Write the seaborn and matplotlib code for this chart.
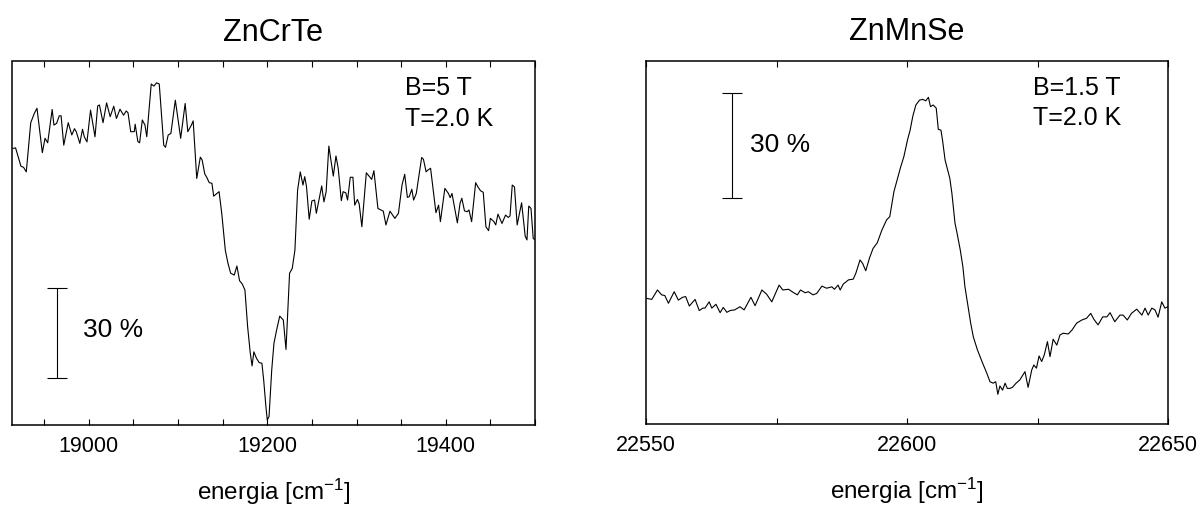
import numpy as np
import pandas as pd
import matplotlib
matplotlib.use("Agg")
import matplotlib.pyplot as plt
from matplotlib import font_manager
from matplotlib.ticker import MultipleLocator
import seaborn as sns

# ---------------- data ----------------
crte_energy = [18915, 18918, 18924, 18927, 18930, 18935, 18939, 18942, 18948, 18951,
               18954, 18959, 18961, 18964, 18967, 18969, 18972, 18977, 18981, 18984,
               18986, 18990, 18993, 18995, 18998, 19002, 19007, 19010, 19012, 19016,
               19020, 19024, 19028, 19031, 19035, 19039, 19042, 19044, 19047, 19051,
               19052, 19055, 19057, 19060, 19063, 19065, 19070, 19073, 19076, 19079,
               19084, 19086, 19089, 19092, 19097, 19103, 19108, 19111, 19115, 19117,
               19121, 19125, 19127, 19130, 19132, 19135, 19138, 19140, 19146, 19149,
               19153, 19156, 19159, 19163, 19166, 19169, 19172, 19175, 19178, 19181,
               19183, 19185, 19188, 19191, 19194, 19196, 19198.5, 19200, 19202, 19205,
               19207.5, 19210.5, 19214, 19218, 19221, 19225, 19228, 19231, 19234, 19237,
               19240, 19242, 19244, 19247, 19250, 19253, 19255, 19261, 19263.5, 19266,
               19269, 19274, 19277, 19279.5, 19283, 19285, 19288, 19290, 19293, 19296,
               19298, 19301, 19303, 19306, 19311, 19317, 19319.5, 19324, 19330, 19333,
               19337.5, 19343, 19347, 19351, 19354, 19357, 19359, 19362, 19364, 19367,
               19373, 19375, 19378, 19380, 19383, 19389, 19392, 19394, 19399, 19403,
               19405, 19407, 19413, 19416, 19418, 19421, 19424, 19426, 19429, 19433.5,
               19436, 19439, 19442, 19445, 19448, 19450, 19454, 19456, 19458.5, 19463,
               19467, 19470, 19472, 19474.5, 19477, 19480, 19485, 19489, 19491, 19493,
               19495.5, 19498, 19500]
crte_signal = [92.2, 92.4, 86.3, 85.9, 84.4, 100.8, 103.9, 105.6, 90.8, 95.6,
               94.1, 105.2, 100.0, 100.6, 103.1, 103.1, 93.3, 100.8, 96.7, 98.8,
               97.8, 93.9, 98.6, 96.1, 94.4, 105.0, 96.1, 106.4, 106.7, 100.8,
               107.4, 102.8, 106.3, 102.2, 105.3, 103.3, 104.7, 104.1, 97.8, 97.8,
               100.3, 94.5, 94.1, 101.7, 100.0, 96.1, 113.7, 113.0, 114.1, 113.7,
               93.3, 92.6, 96.7, 97.2, 108.3, 95.6, 107.2, 97.8, 100.0, 101.4,
               82.2, 89.3, 88.4, 83.7, 82.7, 80.8, 80.6, 76.3, 77.8, 70.6,
               58.3, 53.9, 50.6, 50.0, 53.0, 48.1, 47.0, 45.0, 32.8, 23.9,
               19.7, 24.4, 22.2, 20.8, 20.6, 15.0, 6.1, 1.7, 2.8, 18.3,
               27.2, 31.7, 36.3, 35.0, 25.2, 50.6, 52.2, 58.3, 78.3, 84.4,
               80.0, 82.8, 79.4, 68.6, 74.7, 75.0, 70.6, 79.7, 74.4, 77.8,
               93.0, 83.0, 89.7, 85.6, 74.8, 77.8, 77.4, 75.0, 82.6, 82.6,
               73.3, 75.2, 73.7, 66.1, 84.1, 81.9, 84.8, 72.2, 71.3, 66.7,
               71.3, 68.9, 70.6, 80.0, 83.6, 75.9, 76.1, 78.6, 75.0, 77.2,
               89.2, 88.6, 84.4, 85.0, 85.6, 70.8, 73.3, 67.8, 78.9, 77.2,
               75.8, 77.2, 67.4, 73.9, 75.6, 71.4, 71.1, 71.7, 67.8, 80.8,
               79.4, 78.1, 77.6, 66.1, 64.8, 68.9, 67.8, 66.7, 70.3, 67.2,
               70.0, 69.2, 69.7, 80.0, 79.4, 66.7, 74.1, 63.0, 61.7, 73.0,
               72.2, 62.2, 61.7]

mnse_energy = [22550.1, 22551.1, 22552.2, 22553.0, 22553.6, 22554.3, 22555.4, 22556.2, 22557.0, 22557.6,
               22558.3, 22559.4, 22560.2, 22560.9, 22561.3, 22562.1, 22562.6, 22563.4, 22564.2, 22564.8,
               22565.5, 22566.1, 22567.0, 22568.0, 22568.8, 22570.1, 22570.9, 22572.2, 22573.1, 22574.1,
               22575.5, 22576.2, 22577.3, 22578.2, 22579.0, 22579.6, 22580.5, 22581.1, 22582.0, 22582.7,
               22583.7, 22584.6, 22585.6, 22586.1, 22586.8, 22587.2, 22587.8, 22588.8, 22589.7, 22590.2,
               22591.0, 22591.5, 22592.1, 22592.8, 22593.5, 22594.3, 22595.2, 22596.1, 22596.7, 22597.5,
               22598.1, 22598.8, 22599.4, 22600.1, 22600.6, 22601.1, 22601.7, 22602.4, 22603.0, 22603.6,
               22604.1, 22604.5, 22605.0, 22605.6, 22606.0, 22606.5, 22606.8, 22607.3, 22607.7, 22608.2,
               22608.6, 22609.2, 22609.6, 22610.2, 22610.7, 22611.1, 22611.7, 22612.2, 22612.7, 22613.5,
               22614.5, 22615.3, 22615.9, 22616.5, 22617.0, 22617.4, 22617.8, 22618.3, 22618.8, 22619.2,
               22619.7, 22620.2, 22620.9, 22621.6, 22622.6, 22623.2, 22623.9, 22624.3, 22624.8, 22625.3,
               22625.8, 22626.3, 22626.9, 22627.4, 22628.0, 22628.7, 22629.3, 22629.9, 22630.9, 22631.6,
               22632.5, 22633.5, 22634.4, 22635.2, 22635.8, 22636.6, 22637.5, 22638.3, 22638.9, 22639.8,
               22640.8, 22641.4, 22642.2, 22643.0, 22644.0, 22645.0, 22645.6, 22646.2, 22646.9, 22647.5,
               22648.1, 22648.8, 22649.4, 22650.0]
mnse_signal = [36.0, 35.7, 38.4, 37.0, 36.8, 34.6, 37.9, 35.5, 36.3, 36.5,
               33.8, 35.7, 32.5, 33.2, 33.2, 35.0, 33.2, 34.3, 31.9, 33.4,
               32.0, 32.5, 32.7, 33.6, 32.7, 36.3, 33.9, 38.4, 37.2, 35.0,
               39.8, 38.4, 38.6, 37.7, 37.0, 38.4, 37.6, 37.9, 37.0, 37.4,
               39.5, 38.9, 39.3, 38.6, 39.8, 38.4, 40.1, 41.3, 41.5, 43.2,
               47.0, 46.0, 43.9, 47.5, 50.3, 51.9, 55.6, 58.5, 59.4, 66.6,
               69.9, 73.7, 76.6, 81.4, 84.2, 88.1, 91.4, 92.8, 93.0, 92.6,
               93.6, 90.9, 91.4, 90.5, 84.4, 84.2, 81.4, 75.6, 73.3, 70.4,
               66.1, 57.5, 54.6, 49.9, 45.1, 39.3, 33.6, 28.9, 25.0, 21.2,
               17.4, 14.5, 12.1, 11.7, 12.1, 8.5, 10.9, 9.7, 11.7, 10.2,
               10.2, 10.5, 11.7, 12.6, 15.0, 10.5, 15.5, 16.9, 16.0, 19.5,
               17.9, 19.8, 23.6, 19.3, 24.3, 22.6, 25.5, 26.0, 25.8, 26.9,
               28.9, 29.8, 30.3, 31.7, 30.0, 28.4, 30.7, 30.7, 31.9, 29.3,
               31.2, 31.2, 29.8, 31.7, 32.9, 31.2, 33.2, 31.2, 33.2, 32.7,
               30.6, 35.0, 33.2, 33.6]

panel_titles = ["ZnCrTe", "ZnMnSe"]
field_labels = ["B=5 T\nT=2.0 K", "B=1.5 T\nT=2.0 K"]
scale_label = "30 %"
scale_size = 30
xlabel_text = "energia [cm$^{-1}$]"

# ---------------- style ----------------
sns.set_theme(style="ticks")
avail = {f.name for f in font_manager.fontManager.ttflist}
def pick(*names):
    for n in names:
        if n in avail:
            return n
    return "DejaVu Sans"
main_font = pick("Liberation Sans", "Arial", "DejaVu Sans")
narrow_font = pick("Liberation Sans Narrow", "Liberation Sans", "DejaVu Sans")
plt.rcParams["font.family"] = [main_font, "DejaVu Sans"]
plt.rcParams["mathtext.fontset"] = "custom"
plt.rcParams["mathtext.rm"] = narrow_font
plt.rcParams["mathtext.it"] = narrow_font
plt.rcParams["text.color"] = "black"
plt.rcParams["axes.labelcolor"] = "black"
plt.rcParams["xtick.color"] = "black"
plt.rcParams["xtick.labelcolor"] = "black"

fig = plt.figure(figsize=(12.04, 5.11), dpi=100)
ax1 = fig.add_axes([12 / 1204, 86 / 511, 523 / 1204, 363.5 / 511])
ax2 = fig.add_axes([646 / 1204, 87 / 511, 522 / 1204, 363 / 511])

df1 = pd.DataFrame({"energy": crte_energy, "signal": crte_signal})
df2 = pd.DataFrame({"energy": mnse_energy, "signal": mnse_signal})

for ax, df in ((ax1, df1), (ax2, df2)):
    sns.lineplot(data=df, x="energy", y="signal", ax=ax, color="black",
                 linewidth=0.8, estimator=None, sort=False)

ax1.set_xlim(18914, 19500)
ax1.set_ylim(0, 121.2)
ax1.xaxis.set_major_locator(MultipleLocator(200))
ax1.xaxis.set_minor_locator(MultipleLocator(50))

ax2.set_xlim(22550, 22650)
ax2.set_ylim(0, 104)
ax2.xaxis.set_major_locator(MultipleLocator(50))
ax2.xaxis.set_minor_locator(MultipleLocator(25))

label_x = [0.751, 0.741]
for ax, title, fl, lx in ((ax1, panel_titles[0], field_labels[0], label_x[0]),
                          (ax2, panel_titles[1], field_labels[1], label_x[1])):
    ax.set_yticks([])
    ax.set_ylabel("")
    ax.set_xlabel(xlabel_text, fontsize=17.5, family=[narrow_font, "DejaVu Sans"], labelpad=14)
    ax.set_title(title, fontsize=22, pad=15, family=[main_font, "DejaVu Sans"])
    ax.tick_params(axis="x", which="both", direction="in", top=True, bottom=True,
                   length=4, width=0.8, color="black", pad=8)
    ax.tick_params(axis="x", which="major", labelsize=15.5)
    for lab in ax.get_xticklabels():
        lab.set_family([narrow_font, "DejaVu Sans"])
    for sp in ax.spines.values():
        sp.set_visible(True)
        sp.set_linewidth(1.1)
        sp.set_color("black")
    ax.text(lx, 0.96, fl, transform=ax.transAxes, ha="left", va="top",
            fontsize=18, linespacing=1.35)

# scale bars
ax1.errorbar([18964], [15.6 + scale_size / 2], yerr=[scale_size / 2], color="black",
             capsize=7.5, elinewidth=0.8, capthick=0.8, fmt="none")
ax1.text(18993, 31.7, scale_label, fontsize=19, ha="left", va="center")
ax2.errorbar([22566.4], [64.8 + scale_size / 2], yerr=[scale_size / 2], color="black",
             capsize=7.5, elinewidth=0.8, capthick=0.8, fmt="none")
ax2.text(22569.9, 79.9, scale_label, fontsize=19, ha="left", va="center")

fig.savefig("out.png", dpi=100)
